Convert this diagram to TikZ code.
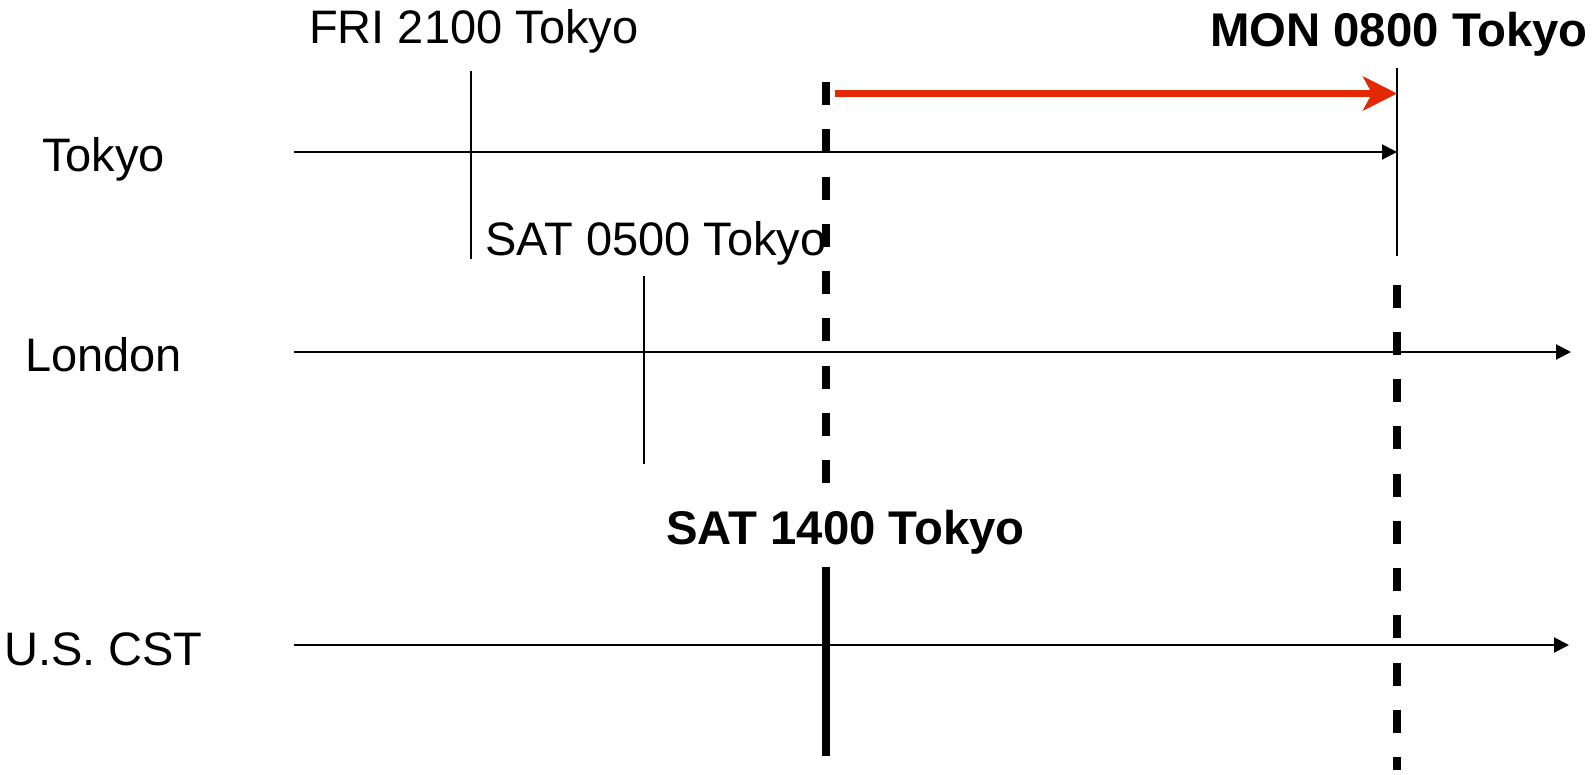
\documentclass[tikz,border=0pt]{standalone}
\usepackage{fontspec}
\setmainfont{Liberation Sans}
\usetikzlibrary{arrows.meta}
\definecolor{arrowred}{RGB}{228,40,4}
\tikzset{
  lbl/.style={inner sep=0pt, anchor=base west, font=\fontsize{47pt}{56pt}\selectfont},
  blbl/.style={inner sep=0pt, anchor=base west, font=\fontsize{47.3pt}{56pt}\selectfont\bfseries},
  timeline/.style={line width=2pt, -{Triangle[length=15pt,width=15pt]}},
  tick/.style={line width=2pt},
  marker/.style={line width=8pt, dash pattern=on 23pt off 24.25pt},
  solidmarker/.style={line width=8pt},
  redarrow/.style={line width=7pt, arrowred, -{Stealth[length=34pt,width=34pt,inset=9pt]}}
}
\begin{document}
\begin{tikzpicture}[x=1pt,y=-1pt]
\useasboundingbox (0,0) rectangle (1592,774);
% labels
\node[lbl] (lTokyo) at (42,171) {Tokyo};
\node[lbl] (lLondon) at (25,371) {London};
\node[lbl] (lCST) at (4,665) {U.S. CST};
\node[lbl] (lFri) at (309,43) {FRI 2100 Tokyo};
\node[lbl] (lSat5) at (485,255) {SAT 0500 Tokyo};
\node[blbl] (lMon) at (1210,46) {MON 0800 Tokyo};
\node[blbl] (lSat14) at (666,544) {SAT 1400 Tokyo};
% coordinates
\coordinate (tyS) at (294,152);
\coordinate (tyE) at (1397,152);
\coordinate (ldS) at (294,352);
\coordinate (ldE) at (1571,352);
\coordinate (csS) at (294,645);
\coordinate (csE) at (1569,645);
\coordinate (friT) at (471,71);
\coordinate (friB) at (471,259);
\coordinate (s5T) at (644,276);
\coordinate (s5B) at (644,464);
\coordinate (monT) at (1397,68);
\coordinate (monB) at (1397,256);
\coordinate (d1T) at (826,82);
\coordinate (d1B) at (826,483);
\coordinate (s1T) at (826,567);
\coordinate (s1B) at (826,756);
\coordinate (d2T) at (1397,284.5);
\coordinate (d2B) at (1397,770);
\coordinate (rS) at (835,93.5);
\coordinate (rE) at (1397,93.5);
% timelines
\draw[timeline] (tyS) -- (tyE);
\draw[timeline] (ldS) -- (ldE);
\draw[timeline] (csS) -- (csE);
% ticks
\draw[tick] (friT) -- (friB);
\draw[tick] (s5T) -- (s5B);
\draw[tick] (monT) -- (monB);
% markers
\draw[marker] (d1T) -- (d1B);
\draw[solidmarker] (s1T) -- (s1B);
\draw[marker] (d2T) -- (d2B);
% red arrow
\draw[redarrow] (rS) -- (rE);
\end{tikzpicture}
\end{document}
